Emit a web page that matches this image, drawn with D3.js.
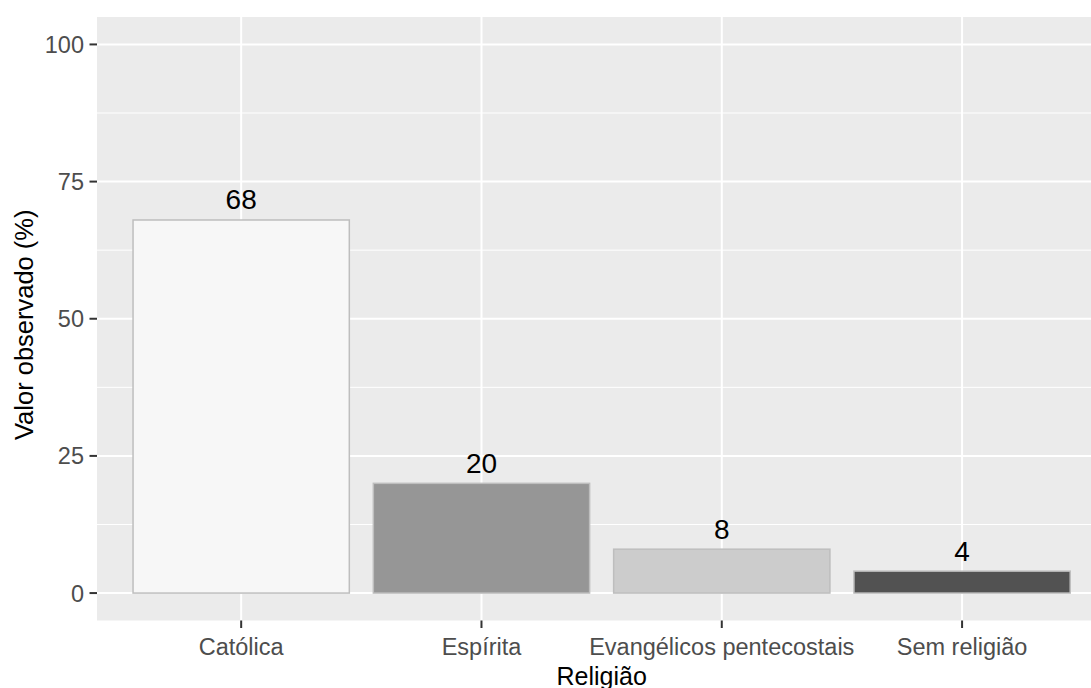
<!DOCTYPE html>
<html>
<head>
<meta charset="utf-8">
<script src="https://cdn.jsdelivr.net/npm/d3@7"></script>
<style>
  html, body { margin: 0; padding: 0; background: #ffffff; }
  svg { display: block; }
  text { font-family: "Liberation Sans", Arial, sans-serif; }
</style>
</head>
<body>
<div id="chart"></div>
<script>
// ---- data ----
const categories = ["Católica", "Espírita", "Evangélicos pentecostais", "Sem religião"];
const values = [68, 20, 8, 4];
const fills = ["#F7F7F7", "#969696", "#CCCCCC", "#525252"];
const yTicks = [0, 25, 50, 75, 100];
const yMinor = [12.5, 37.5, 62.5, 87.5];
const xTitle = "Religião";
const yTitle = "Valor observado (%)";

const W = 1091, H = 688;
const panel = { left: 97, top: 17, bottom: 620.5 };
const step = 240.3;
const panelRight = panel.left + step * 4.2;

const svg = d3.select("#chart").append("svg")
  .attr("width", W).attr("height", H);

const x = d3.scaleBand()
  .domain(categories)
  .range([panel.left + step * 0.1, panelRight - step * 0.1])
  .paddingInner(0.1)
  .paddingOuter(0.05);
// center of band i equals panel.left + 0.6*step + i*step
const y = d3.scaleLinear().domain([-5, 105]).range([panel.bottom, panel.top]);

// panel background
svg.append("rect")
  .attr("x", panel.left).attr("y", panel.top)
  .attr("width", panelRight - panel.left).attr("height", panel.bottom - panel.top)
  .attr("fill", "#EBEBEB");

// minor gridlines
svg.append("g").selectAll("line").data(yMinor).join("line")
  .attr("x1", panel.left).attr("x2", panelRight)
  .attr("y1", d => y(d)).attr("y2", d => y(d))
  .attr("stroke", "#ffffff").attr("stroke-width", 1);

// major gridlines
svg.append("g").selectAll("line").data(yTicks).join("line")
  .attr("x1", panel.left).attr("x2", panelRight)
  .attr("y1", d => y(d)).attr("y2", d => y(d))
  .attr("stroke", "#ffffff").attr("stroke-width", 2);

const cx = d => x(d) + x.bandwidth() / 2;

svg.append("g").selectAll("line").data(categories).join("line")
  .attr("x1", cx).attr("x2", cx)
  .attr("y1", panel.top).attr("y2", panel.bottom)
  .attr("stroke", "#ffffff").attr("stroke-width", 2);

// bars
const barW = step * 0.9;
svg.append("g").selectAll("rect").data(categories).join("rect")
  .attr("x", d => cx(d) - barW / 2)
  .attr("width", barW)
  .attr("y", (d, i) => y(values[i]))
  .attr("height", (d, i) => y(0) - y(values[i]))
  .attr("fill", (d, i) => fills[i])
  .attr("stroke", "#BEBEBE")
  .attr("stroke-width", 1.5);

// value labels
svg.append("g").selectAll("text").data(categories).join("text")
  .attr("x", cx)
  .attr("y", (d, i) => y(values[i]) - 10.5)
  .attr("text-anchor", "middle")
  .attr("font-size", "28px")
  .attr("fill", "#000000")
  .text((d, i) => values[i]);

// y axis ticks + labels
const yAxis = svg.append("g");
yAxis.selectAll("line").data(yTicks).join("line")
  .attr("x1", panel.left - 7.5).attr("x2", panel.left)
  .attr("y1", d => y(d)).attr("y2", d => y(d))
  .attr("stroke", "#333333").attr("stroke-width", 2);
yAxis.selectAll("text").data(yTicks).join("text")
  .attr("x", panel.left - 13)
  .attr("y", d => y(d) + 8.5)
  .attr("text-anchor", "end")
  .attr("font-size", "23.5px")
  .attr("fill", "#4D4D4D")
  .text(d => d);

// x axis ticks + labels
const xAxis = svg.append("g");
xAxis.selectAll("line").data(categories).join("line")
  .attr("x1", cx).attr("x2", cx)
  .attr("y1", panel.bottom).attr("y2", panel.bottom + 7.5)
  .attr("stroke", "#333333").attr("stroke-width", 2);
xAxis.selectAll("text").data(categories).join("text")
  .attr("x", cx)
  .attr("y", 655)
  .attr("text-anchor", "middle")
  .attr("font-size", "23.5px")
  .attr("fill", "#4D4D4D")
  .text(d => d);

// axis titles
svg.append("text")
  .attr("x", (panel.left + panelRight) / 2)
  .attr("y", 684.5)
  .attr("text-anchor", "middle")
  .attr("font-size", "25px")
  .attr("fill", "#000000")
  .text(xTitle);

svg.append("text")
  .attr("transform", `translate(33, ${(panel.top + panel.bottom) / 2 + 6}) rotate(-90)`)
  .attr("text-anchor", "middle")
  .attr("font-size", "25.5px")
  .attr("fill", "#000000")
  .text(yTitle);
</script>
</body>
</html>
